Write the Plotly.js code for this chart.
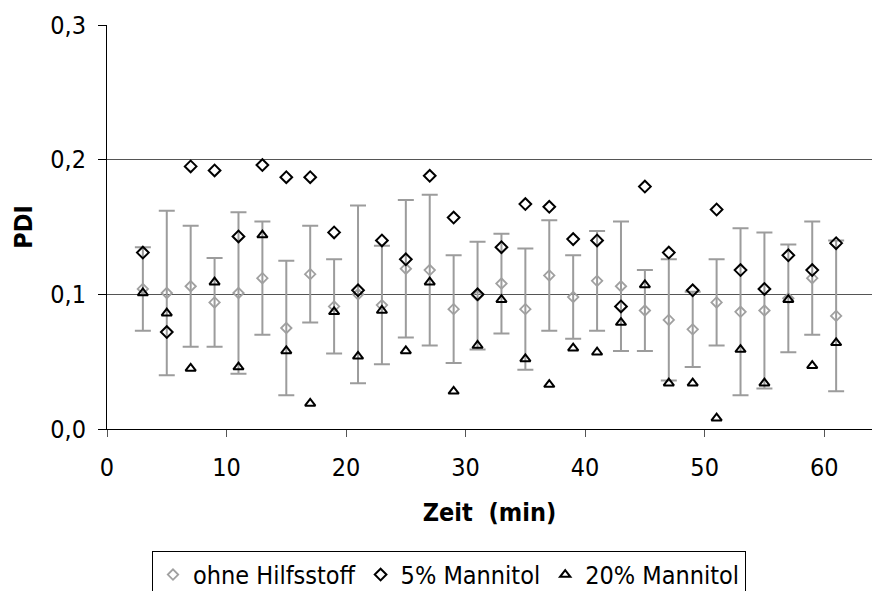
<!DOCTYPE html>
<html>
<head>
<meta charset="utf-8">
<script src="https://cdn.plot.ly/plotly-3.0.1.min.js"></script>
<style>
html,body{margin:0;padding:0;background:#fff;}
#chart{width:872px;height:591px;}
</style>
</head>
<body>
<div id="chart"></div>
<script>
// Zeit (min)
const zeit = [3,5,7,9,11,13,15,17,19,21,23,25,27,29,31,33,35,37,39,41,43,45,47,49,51,53,55,57,59,61];
// ohne Hilfsstoff: mean PDI and standard deviation
const ohneHilfsstoff = [0.104,0.101,0.106,0.094,0.101,0.112,0.075,0.115,0.091,0.100,0.092,0.119,0.118,0.089,0.099,0.108,0.089,0.114,0.098,0.110,0.106,0.088,0.081,0.074,0.094,0.087,0.088,0.097,0.112,0.084];
const ohneSD = [0.031,0.061,0.045,0.033,0.060,0.042,0.050,0.036,0.035,0.066,0.044,0.051,0.056,0.040,0.040,0.037,0.045,0.041,0.031,0.037,0.048,0.030,0.045,0.028,0.032,0.062,0.058,0.040,0.042,0.056];
// 5% Mannitol
const mannitol5 = [0.131,0.072,0.195,0.192,0.143,0.196,0.187,0.187,0.146,0.103,0.140,0.126,0.188,0.157,0.100,0.135,0.167,0.165,0.141,0.140,0.091,0.180,0.131,0.103,0.163,0.118,0.104,0.129,0.118,0.138];
// 20% Mannitol
const mannitol20 = [0.101,0.086,0.045,0.109,0.046,0.144,0.058,0.019,0.087,0.054,0.088,0.058,0.109,0.028,0.062,0.096,0.052,0.033,0.060,0.057,0.079,0.107,0.034,0.034,0.008,0.059,0.034,0.096,0.047,0.064];

const yTicks = [0, 0.1, 0.2, 0.3];
const xTicks = [0, 10, 20, 30, 40, 50, 60];

const FONT = '"DejaVu Sans Condensed", "DejaVu Sans", sans-serif';

const traces = [
  {
    x: zeit, y: ohneHilfsstoff, name: 'ohne Hilfsstoff', type: 'scatter', mode: 'markers',
    marker: {symbol: 'diamond-open', size: 8, color: '#a0a0a0', line: {width: 1.8, color: '#a0a0a0'}},
    error_y: {type: 'data', array: ohneSD, visible: true, color: '#9c9c9c', thickness: 2, width: 8}
  },
  {
    x: zeit, y: mannitol5, name: '5% Mannitol', type: 'scatter', mode: 'markers',
    marker: {symbol: 'diamond-open', size: 9, color: '#000000', line: {width: 2, color: '#000000'}}
  },
  {
    x: zeit, y: mannitol20, name: '20% Mannitol', type: 'scatter', mode: 'markers',
    marker: {symbol: 'triangle-up-open', size: 9, color: '#000000', line: {width: 2, color: '#000000'}}
  }
];

const layout = {
  width: 872, height: 591,
  margin: {l: 107, r: 0, t: 25, b: 162, pad: 0, autoexpand: false},
  paper_bgcolor: '#ffffff', plot_bgcolor: '#ffffff',
  separators: ',.',
  font: {family: FONT, size: 25, color: '#000000'},
  showlegend: true,
  legend: {
    orientation: 'h', xref: 'container', yref: 'container',
    x: 0.1743, xanchor: 'left', y: 0.068, yanchor: 'top',
    bordercolor: '#000000', borderwidth: 1, bgcolor: '#ffffff',
    font: {family: FONT, size: 25, color: '#000000'},
    itemwidth: 30, traceorder: 'normal'
  },
  xaxis: {
    range: [0, 64], tickvals: xTicks, ticktext: xTicks.map(String),
    ticks: 'outside', ticklen: 7, tickwidth: 1, tickcolor: '#555555',
    ticklabelstandoff: 9,
    showline: true, linecolor: '#000000', linewidth: 1,
    showgrid: false, zeroline: false,
    tickfont: {family: FONT, size: 25, color: '#000000'},
    title: {text: '<b>Zeit  (min)</b>', font: {family: FONT, size: 25, color: '#000000'}, standoff: 22},
    automargin: false
  },
  yaxis: {
    range: [0, 0.3], tickvals: yTicks, tickformat: '.1f',
    ticks: 'outside', ticklen: 8, tickwidth: 1, tickcolor: '#000000',
    ticklabelstandoff: 7,
    showline: true, linecolor: '#000000', linewidth: 1,
    showgrid: true, gridcolor: '#555555', gridwidth: 1, zeroline: false,
    tickfont: {family: FONT, size: 25, color: '#000000'},
    title: {text: '<b>PDI</b>', font: {family: FONT, size: 25, color: '#000000'}, standoff: 10},
    automargin: false
  }
};

Plotly.newPlot('chart', traces, layout, {displayModeBar: false, staticPlot: true});
</script>
</body>
</html>
